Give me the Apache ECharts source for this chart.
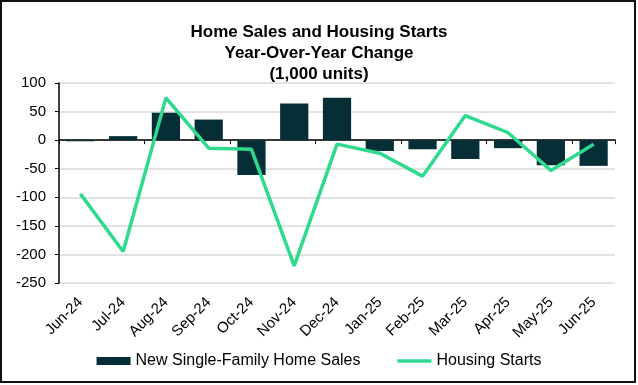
<!DOCTYPE html>
<html>
<head>
<meta charset="utf-8">
<script src="https://cdn.jsdelivr.net/npm/echarts@6/dist/echarts.min.js"></script>
<style>
  html, body { margin: 0; padding: 0; background: #fff; }
  #chart { width: 638px; height: 385px; }
</style>
</head>
<body>
<div id="chart"></div>
<script>
const categories = ['Jun-24','Jul-24','Aug-24','Sep-24','Oct-24','Nov-24','Dec-24','Jan-25','Feb-25','Mar-25','Apr-25','May-25','Jun-25'];
const homeSales = [-2, 7, 48, 36, -61, 64, 74, -19, -16, -33, -14, -44, -45];
const housingStarts = [-94, -195, 74, -14, -16, -220, -7, -23, -63, 43, 13, -53, -7];
const yTicks = { min: -250, max: 100, interval: 50 };

const FONT = "'Liberation Sans', Arial, sans-serif";
const chart = echarts.init(document.getElementById('chart'), null, { renderer: 'canvas' });

chart.setOption({
  animation: false,
  backgroundColor: '#fff',
  title: {
    text: 'Home Sales and Housing Starts\nYear-Over-Year Change\n(1,000 units)',
    left: 'center',
    top: 17,
    textStyle: { fontFamily: FONT, fontSize: 17, fontWeight: 'bold', color: '#000', lineHeight: 21 }
  },
  graphic: [{
    type: 'rect',
    shape: { x: 1, y: 1, width: 634, height: 381 },
    style: { fill: 'none', stroke: '#111', lineWidth: 2 },
    silent: true
  }],
  legend: {
    top: 348,
    left: 'center',
    itemWidth: 34,
    itemHeight: 8,
    itemGap: 37,
    textStyle: { fontFamily: FONT, fontSize: 16, color: '#000' },
    data: [
      { name: 'New Single-Family Home Sales', icon: 'rect' },
      { name: 'Housing Starts', icon: 'path://M0,0H100V11H0Z', itemStyle: { color: '#2fd98e' } }
    ]
  },
  grid: { left: 59, right: 23, top: 83, bottom: 102, containLabel: false },
  xAxis: [
    {
      type: 'category',
      data: categories,
      position: 'bottom',
      axisLine: { show: true, onZero: true, lineStyle: { color: '#000', width: 1.5 } },
      axisTick: { show: true, length: 4, lineStyle: { color: '#000', width: 1 } },
      axisLabel: { show: false },
      splitLine: { show: false }
    },
    {
      type: 'category',
      data: categories,
      position: 'bottom',
      axisLine: { show: false, onZero: false },
      axisTick: { show: false },
      axisLabel: { rotate: 45, margin: 17, fontFamily: FONT, fontSize: 15, color: '#000', interval: 0 },
      splitLine: { show: false }
    }
  ],
  yAxis: {
    type: 'value',
    min: yTicks.min,
    max: yTicks.max,
    interval: yTicks.interval,
    axisLine: { show: true, lineStyle: { color: '#000', width: 1.5 } },
    axisTick: { show: true, length: 4, lineStyle: { color: '#000' } },
    axisLabel: { margin: 13, fontFamily: FONT, fontSize: 15, color: '#000' },
    splitLine: { show: true, lineStyle: { color: '#d9d9d9', width: 1.5 } }
  },
  series: [
    {
      name: 'New Single-Family Home Sales',
      type: 'bar',
      xAxisIndex: 0,
      data: homeSales,
      barWidth: '66%',
      itemStyle: { color: '#062e37' },
      z: 2
    },
    {
      name: 'Housing Starts',
      type: 'line',
      xAxisIndex: 0,
      data: housingStarts,
      symbol: 'none',
      showSymbol: false,
      lineStyle: { color: '#2fd98e', width: 3.5 },
      itemStyle: { color: '#2fd98e' },
      z: 3
    }
  ]
});
</script>
</body>
</html>
